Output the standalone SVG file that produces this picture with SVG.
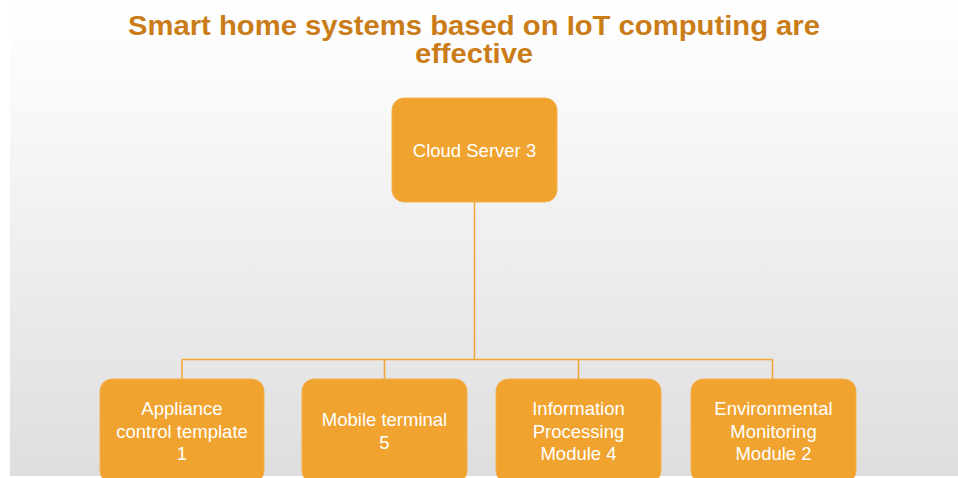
<svg xmlns="http://www.w3.org/2000/svg" width="958" height="478" viewBox="0 0 958 478">
<defs>
<linearGradient id="bg" x1="0" y1="0" x2="0" y2="1">
<stop offset="0" stop-color="#ffffff"/>
<stop offset="0.15" stop-color="#fbfbfb"/>
<stop offset="1" stop-color="#dedede"/>
</linearGradient>
<style>
.box{fill:#F0A32F;stroke:#F2B255;stroke-width:1}
.lbl{font-family:"Liberation Sans",Arial,sans-serif;font-size:18.5px;fill:#ffffff;text-anchor:middle}
.title{font-family:"Liberation Sans",Arial,sans-serif;font-size:27px;font-weight:bold;fill:#C97C17;text-anchor:middle}
.conn{fill:none;stroke:#F0A535;stroke-width:1.5}
</style>
</defs>
<rect x="0" y="0" width="958" height="478" fill="#ffffff"/>
<rect x="10" y="0" width="948" height="476" fill="url(#bg)"/>
<g id="title">
<text class="title" x="474" y="35" textLength="692" lengthAdjust="spacingAndGlyphs">Smart home systems based on IoT computing are</text>
<text class="title" x="474" y="63" textLength="118" lengthAdjust="spacingAndGlyphs">effective</text>
</g>
<g id="connectors">
<path class="conn" d="M474.5,202 V359.5 M182,359.5 H772.5 M182,359.5 V379 M384.5,359.5 V379 M578.5,359.5 V379 M772.5,359.5 V379"/>
</g>
<g id="cloud">
<rect class="box" x="392" y="98" width="165" height="104" rx="12"/>
<text class="lbl" x="474.5" y="157">Cloud Server 3</text>
</g>
<g id="appliance">
<rect class="box" x="100" y="379" width="164" height="104" rx="12"/>
<text class="lbl" x="182" y="415">Appliance</text>
<text class="lbl" x="182" y="437.5">control template</text>
<text class="lbl" x="182" y="460">1</text>
</g>
<g id="mobile">
<rect class="box" x="302" y="379" width="165" height="104" rx="12"/>
<text class="lbl" x="384.5" y="426">Mobile terminal</text>
<text class="lbl" x="384.5" y="448.5">5</text>
</g>
<g id="info">
<rect class="box" x="496" y="379" width="165" height="104" rx="12"/>
<text class="lbl" x="578.5" y="415">Information</text>
<text class="lbl" x="578.5" y="437.5">Processing</text>
<text class="lbl" x="578.5" y="460">Module 4</text>
</g>
<g id="env">
<rect class="box" x="691" y="379" width="165" height="104" rx="12"/>
<text class="lbl" x="773.5" y="415">Environmental</text>
<text class="lbl" x="773.5" y="437.5">Monitoring</text>
<text class="lbl" x="773.5" y="460">Module 2</text>
</g>
</svg>
